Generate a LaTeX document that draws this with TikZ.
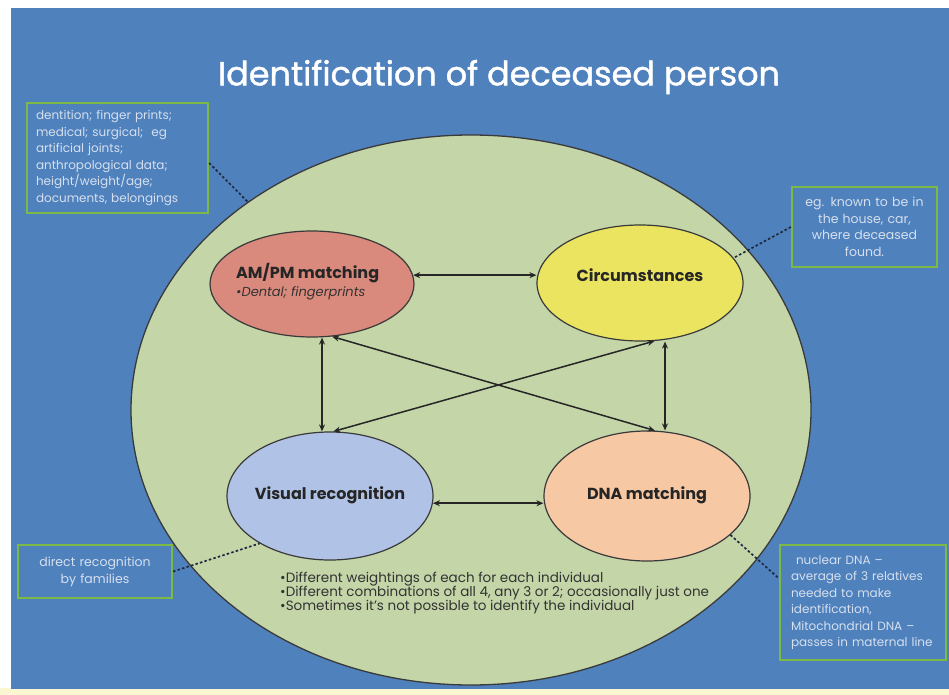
\documentclass[tikz,border=0pt]{standalone}
\usepackage{fontspec}
\setmainfont{Poppins}
\usetikzlibrary{shapes.geometric,arrows.meta,calc}
\definecolor{bgblue}{HTML}{4F81BD}
\definecolor{stripyellow}{HTML}{FAF6D2}
\definecolor{biggreen}{HTML}{C4D5A8}
\definecolor{ampred}{HTML}{D98A7D}
\definecolor{circyellow}{HTML}{EAE460}
\definecolor{visblue}{HTML}{B0C3E6}
\definecolor{dnapeach}{HTML}{F6C8A4}
\definecolor{calgreen}{HTML}{7DBA45}
\definecolor{caltext}{HTML}{D6E0EE}
\definecolor{dotcol}{HTML}{1E2A40}
\definecolor{ellborder}{HTML}{3A3A3A}
\begin{document}
\begin{tikzpicture}[x=1pt,y=-1pt,
  bubble/.style={ellipse, draw=ellborder, line width=1.2pt, inner sep=0pt},
  lbl/.style={font=\bfseries\fontsize{16}{19}\selectfont, text=black!85, inner sep=0pt},
  callout/.style={draw=calgreen, line width=2.2pt, inner sep=0pt, text=caltext,
    font=\fontsize{12}{16.5}\selectfont},
  arr/.style={{Stealth[length=7pt,width=6pt]}-{Stealth[length=7pt,width=6pt]}, line width=1.5pt, black!85},
  dotline/.style={dotcol, line width=1.7pt, dash pattern=on 2.5pt off 2.2pt},
  bullets/.style={font=\fontsize{13.5}{14}\selectfont, text=black!80, inner sep=0pt, align=left}
]
\useasboundingbox (0,0) rectangle (949,695);
\fill[white] (0,0) rectangle (949,695);
\fill[stripyellow] (0,688) rectangle (949,695);
\fill[bgblue] (11,8) rectangle (949,689);

% title
\node[text=white, inner sep=0pt] (ttl) at (499,77)
  {\resizebox{562pt}{!}{\fontsize{40}{44}\selectfont\addfontfeatures{FakeBold=1.2}Identification of deceased person}};

% big ellipse
\node[ellipse, draw=ellborder, line width=1.3pt, fill=biggreen, inner sep=0pt,
  minimum width=680pt, minimum height=550pt] (big) at (471,410) {};

% four ellipses
\node[bubble, fill=ampred, minimum width=204pt, minimum height=106pt] (amp) at (312,284) {};
\node[bubble, fill=circyellow, minimum width=206pt, minimum height=116pt] (circ) at (640,283) {};
\node[bubble, fill=visblue, minimum width=206pt, minimum height=128pt] (vis) at (330,496) {};
\node[bubble, fill=dnapeach, minimum width=206pt, minimum height=130pt] (dna) at (647,496) {};

% labels
\node[lbl, anchor=west] (ampT) at (236,273) {AM/PM matching};
\node[inner sep=0pt, anchor=west, font=\itshape\fontsize{13}{15}\selectfont, text=black!80] (ampS) at (236,293) {•Dental; fingerprints};
\node[lbl] (circT) at (640,275) {Circumstances};
\node[lbl] (visT) at (330,495) {Visual recognition};
\node[lbl] (dnaT) at (647,495) {DNA matching};

% arrows
\draw[arr] (amp.5) -- (amp.5 -| circ.west);
\draw[arr] (vis.-4) -- (vis.-4 -| dna.west);
\draw[arr] ([xshift=10pt]amp.south) -- ([xshift=10pt]amp.south |- vis.north);
\draw[arr] ([xshift=25pt]circ.south) -- ([xshift=25pt]circ.south |- dna.north);
\draw[arr] (amp.-69) -- (dna.83);
\draw[arr] (circ.-76) -- (vis.87);

% callouts
\node[callout, minimum width=181pt, minimum height=110pt, text width=163pt, align=left] (c1) at (117.5,158)
  {dentition; finger prints;\\ medical; surgical;\ \ eg\\ artificial joints;\\ anthropological data;\\ height/weight/age;\\ documents, belongings};
\node[callout, minimum width=145pt, minimum height=80pt, text width=140pt, align=center,
  font=\fontsize{12.5}{16.5}\selectfont] (c2) at (864.5,227)
  {eg. known to be in\\ the house, car,\\ where deceased\\ found.};
\node[callout, minimum width=154pt, minimum height=53pt, text width=150pt, align=center,
  font=\fontsize{12.5}{17}\selectfont] (c3) at (95,571.5)
  {direct recognition\\ by families};
\node[callout, minimum width=166pt, minimum height=115pt, text width=144pt, align=left] (c4) at (863,602.5)
  {\hspace*{5pt}nuclear DNA –\\ average of 3 relatives\\ needed to make\\ identification,\\ Mitochondrial DNA –\\ passes in maternal line};

% dotted connectors
\draw[dotline] ([yshift=-5pt]c1.east) -- (big.137);
\draw[dotline] (c2.west) -- (circ.15);
\draw[dotline] (c3.east) -- (vis.214);
\draw[dotline] (dna.-25) -- ([yshift=24pt]c4.west);

% bullets
\node[bullets, anchor=north west] (notes) at (280,572)
  {•Different weightings of each for each individual\\
   •Different combinations of all 4, any 3 or 2; occasionally just one\\
   •Sometimes it's not possible to identify the individual};
\end{tikzpicture}
\end{document}
